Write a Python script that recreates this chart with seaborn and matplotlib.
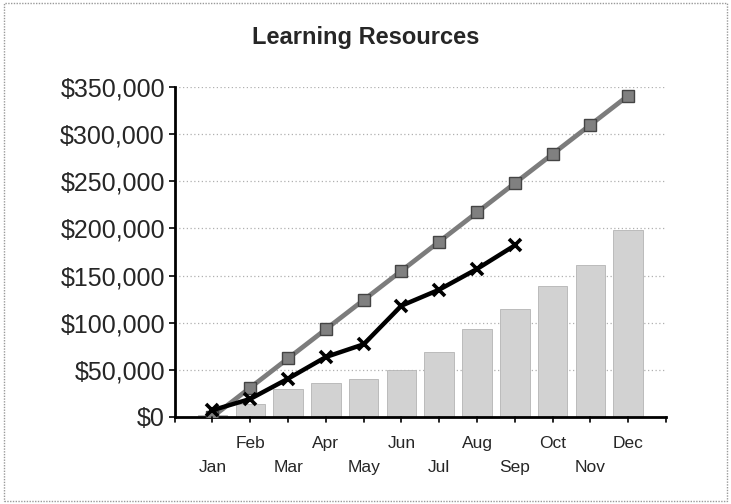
import seaborn as sns
import matplotlib.pyplot as plt
import matplotlib.patches as mpatches
import pandas as pd
import numpy as np

# chart values
months = ["Jan", "Feb", "Mar", "Apr", "May", "Jun", "Jul", "Aug", "Sep", "Oct", "Nov", "Dec"]
monthly = [2000, 14000, 29000, 36000, 40000, 50000, 69000, 93000, 114000, 139000, 161000, 198000]
budget_cum = [0, 31000, 62000, 93000, 124000, 155000, 186000, 217000, 248000, 279000, 310000, 341000]
actual_cum = [7000, 19000, 40500, 63500, 77000, 118000, 135000, 157000, 182000]

sns.set_theme(style="white")
plt.rcParams['font.family'] = ['Liberation Sans', 'DejaVu Sans']

fig, ax = plt.subplots(figsize=(7.31, 5.04), dpi=100)
fig.subplots_adjust(left=0.239, right=0.911, bottom=0.173, top=0.827)

df = pd.DataFrame({"month": months, "value": monthly})
sns.barplot(data=df, x="month", y="value", color="#d2d2d2", saturation=1,
            width=0.78, edgecolor="#b4b4b4", linewidth=0.6, ax=ax, zorder=2)

pos = np.arange(len(months))
sns.lineplot(x=pos, y=budget_cum, color="#7c7c7c", lw=3.4, marker="s",
             markersize=8, markerfacecolor="#808080", markeredgecolor="#444444",
             markeredgewidth=1.0, ax=ax, zorder=4)
sns.lineplot(x=pos[:len(actual_cum)], y=actual_cum, color="black", lw=3.2,
             marker="x", markersize=8, markeredgecolor="black", markeredgewidth=2.6,
             ax=ax, zorder=5)

ax.set_xlim(-1, 12)
ax.set_ylim(0, 350000)
ax.set_yticks(range(0, 350001, 50000))
ax.set_yticklabels([f"${v:,}" for v in range(0, 350001, 50000)], fontsize=18)
ax.yaxis.grid(True, linestyle=(0, (1, 2)), color="#b0b0b0", lw=0.9)
ax.set_axisbelow(True)

# staggered month labels: Jan, Mar, ... on the lower row
ax.set_xticks(pos[0::2])
ax.set_xticklabels(months[0::2], fontsize=12.5)
ax.set_xticks(pos[1::2], minor=True)
ax.set_xticklabels(months[1::2], minor=True, fontsize=12.5)
ax.tick_params(axis="x", which="major", length=0, pad=31)
ax.tick_params(axis="x", which="minor", length=0, pad=14)
for xt in list(range(-1, 13)):
    ax.plot([xt, xt], [0, -6000], color="black", lw=1.2, clip_on=False, zorder=6)
ax.tick_params(axis="y", length=4, width=1.2, color="black", left=True, pad=3)

ax.set_xlabel("")
ax.set_ylabel("")
fig.suptitle("Learning Resources", x=0.5, y=0.948, fontsize=17, fontweight="bold")

sns.despine(ax=ax)
for s in ["left", "bottom"]:
    ax.spines[s].set_color("black")
    ax.spines[s].set_linewidth(2)

fig.patches.append(mpatches.Rectangle((0.006, 0.006), 0.988, 0.988, transform=fig.transFigure,
                                      fill=False, ec="#999999", lw=1, ls=(0, (1, 1))))

fig.savefig("out.png", dpi=100)
